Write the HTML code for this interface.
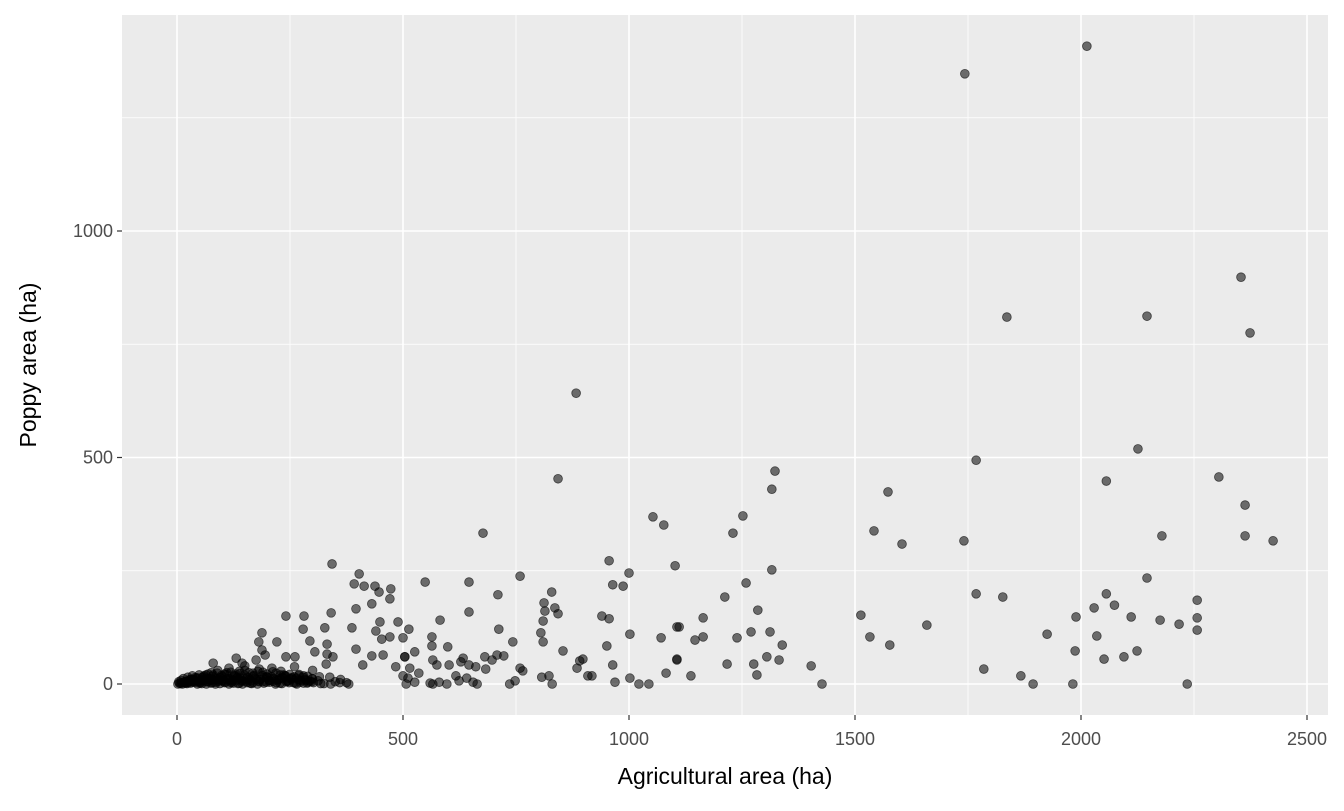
<!DOCTYPE html>
<html><head><meta charset="utf-8"><style>
body{margin:0;background:#fff;font-family:"Liberation Sans",Arial,sans-serif}
svg text{font-family:"Liberation Sans",Arial,sans-serif}
</style></head><body>
<svg id="chart" width="1344" height="806" xmlns="http://www.w3.org/2000/svg">
<rect x="122" y="15" width="1206" height="700" fill="#ebebeb"/>
<g id="grid"></g><g id="pts"></g><g id="ticks"></g>
<text x="725" y="784" text-anchor="middle" font-size="23" fill="#000">Agricultural area (ha)</text>
<text transform="translate(36,365) rotate(-90)" text-anchor="middle" font-size="23" fill="#000">Poppy area (ha)</text>
</svg>
<script>
const xTicks=[0,500,1000,1500,2000,2500];
const yTicks=[0,500,1000];
const xMinor=[250,750,1250,1750,2250];
const yMinor=[250,750,1250];
const agriArea=[343,403,392,414,438,447,473,471,431,396,341,241,281,279,327,387,188,449,489,440,453,471,500,221,181,294,332,396,188,305,195,332,345,431,456,504,131,144,175,241,261,330,411,484,80,
549,646,710,646,582,759,829,812,814,836,843,810,805,810,956,1000,964,987,1102,940,956,1002,1071,1106,951,964,854,712,743,513,564,564,599,526,504,566,575,602,633,628,646,661,681,697,708,723,683,515,535,759,765,885,891,898,909,918,807,823,830,1002,969,1022,1044,1082,1106,617,624,641,655,664,560,566,597,580,736,748,500,511,526,507,
2013,1743,2354,2374,1836,2146,883,2126,1768,2305,843,2056,2363,2363,2425,1323,1316,1573,1542,1604,1741,2179,677,1053,1077,1252,1230,1316,1212,1259,1768,1827,2056,2146,2257,2074,2029,2111,2175,2217,2257,2257,1925,2035,2124,2095,2051,1987,1989,1513,1533,1577,1659,1785,1867,1894,1982,2235,1403,1427,1339,1312,1270,1285,1239,1332,1305,1276,1283,1217,1164,1164,1146,1111,1106,1137,
2,5,8,10,12,15,18,20,22,25,28,30,33,36,40,44,48,52,56,60,64,68,72,76,80,85,90,95,100,105,110,115,120,126,132,138,144,150,156,162,168,175,182,190,198,205,212,220,228,236,245,254,262,270,280,290,300,312,325,338,350,362,375,
30,40,50,60,70,80,90,100,110,120,130,140,150,160,170,180,190,200,210,220,230,240,250,260,270,285,300,315,
45,55,65,75,85,95,105,115,125,135,145,155,165,178,192,205,218,232,248,265,280,298,318,340,360,380,
4,9,14,19,24,29,34,39,44,49,54,59,64,69,74,79,84,89,94,99,104,109,114,119,124,129,134,139,144,149,154,159,164,169,174,179,184,189,194,199,204,209,214,219,224,229,234,239,244,249,254,259,264,269,274,279,284,289,294,299,
20,35,50,65,78,92,108,122,138,152,168,182,198,212,228,242,258,272,288,302];
const poppyArea=[265,243,221,216,216,203,210,188,177,166,157,150,150,121,124,124,113,137,137,117,99,104,102,93,93,95,88,77,75,71,64,66,60,62,64,60,57,46,53,60,60,44,42,38,46,
225,225,197,159,141,238,203,179,161,168,155,139,113,93,272,245,219,216,261,150,144,110,102,126,84,42,73,121,93,121,104,84,82,71,60,53,42,42,57,49,42,38,60,53,64,62,33,35,24,35,29,35,51,55,18,18,15,18,0,13,4,0,0,24,55,18,7,13,4,0,2,0,0,4,0,7,18,13,4,0,
1408,1347,898,775,810,812,642,519,494,457,453,448,395,327,316,470,430,424,338,309,316,327,333,369,351,371,333,252,192,223,199,192,199,234,185,174,168,148,141,132,146,119,110,106,73,60,55,73,148,152,104,86,130,33,18,0,0,0,40,0,86,115,115,163,102,53,60,44,20,44,146,104,97,126,53,18,
0,2,1,3,0,4,2,6,1,3,8,2,5,10,4,12,6,3,15,8,20,5,12,25,9,4,30,14,7,22,11,35,3,18,9,28,6,40,15,2,24,10,33,5,16,8,27,3,12,20,6,14,2,9,18,4,11,7,1,15,5,10,3,
10,14,6,18,12,20,9,16,25,8,22,13,30,11,19,7,26,15,35,9,28,18,12,38,21,8,30,16,
0,1,0,2,0,1,3,0,2,1,0,3,1,0,2,4,0,1,3,0,2,5,1,0,3,0,
5,8,12,6,15,10,18,7,14,20,9,16,11,22,8,17,13,24,10,19,6,21,12,26,9,18,14,23,8,20,11,25,7,17,13,28,10,19,15,22,8,16,12,24,9,20,14,18,7,21,11,16,13,19,8,15,10,17,6,12,
3,4,2,5,3,6,4,5,2,6,3,5,4,6,2,5,3,4,2,3];
const x0=177,xs=0.452,y0=684,ys=0.453;
const X=v=>x0+v*xs, Y=v=>y0-v*ys;
const NS="http://www.w3.org/2000/svg";
const grid=document.getElementById('grid'),pts=document.getElementById('pts'),tk=document.getElementById('ticks');
function ln(g,x1,y1,x2,y2,w,c){const l=document.createElementNS(NS,'line');l.setAttribute('x1',x1);l.setAttribute('y1',y1);l.setAttribute('x2',x2);l.setAttribute('y2',y2);l.setAttribute('stroke',c);l.setAttribute('stroke-width',w);g.appendChild(l);return l;}
xMinor.forEach(v=>{const l=ln(grid,X(v),15,X(v),715,0.8,'#fff');

});
yMinor.forEach(v=>{const l=ln(grid,122,Y(v),1328,Y(v),0.8,'#fff');

});
xTicks.forEach(v=>{const l=ln(grid,X(v),15,X(v),715,1.6,'#fff');


const t=ln(tk,X(v),715,X(v),720,1.2,'#333');


const tx=document.createElementNS(NS,'text');tx.setAttribute('x',X(v));tx.setAttribute('y',745);tx.setAttribute('text-anchor','middle');tx.setAttribute('font-size','18');tx.setAttribute('fill','#4d4d4d');tx.textContent=v;


tk.appendChild(tx);});
yTicks.forEach(v=>{const l=ln(grid,122,Y(v),1328,Y(v),1.6,'#fff');


const t=ln(tk,117,Y(v),122,Y(v),1.2,'#333');


const tx=document.createElementNS(NS,'text');tx.setAttribute('x',113);tx.setAttribute('y',Y(v)+6);tx.setAttribute('text-anchor','end');tx.setAttribute('font-size','18');tx.setAttribute('fill','#4d4d4d');tx.textContent=v;


tk.appendChild(tx);});
agriArea.forEach((a,i)=>{const c=document.createElementNS(NS,'circle');c.setAttribute('cx',X(a));c.setAttribute('cy',Y(poppyArea[i]));c.setAttribute('r',4.4);c.setAttribute('fill','rgba(0,0,0,0.55)');c.setAttribute('stroke','rgba(0,0,0,0.6)');c.setAttribute('stroke-width','0.8');


pts.appendChild(c);});
</script>
</body></html>
